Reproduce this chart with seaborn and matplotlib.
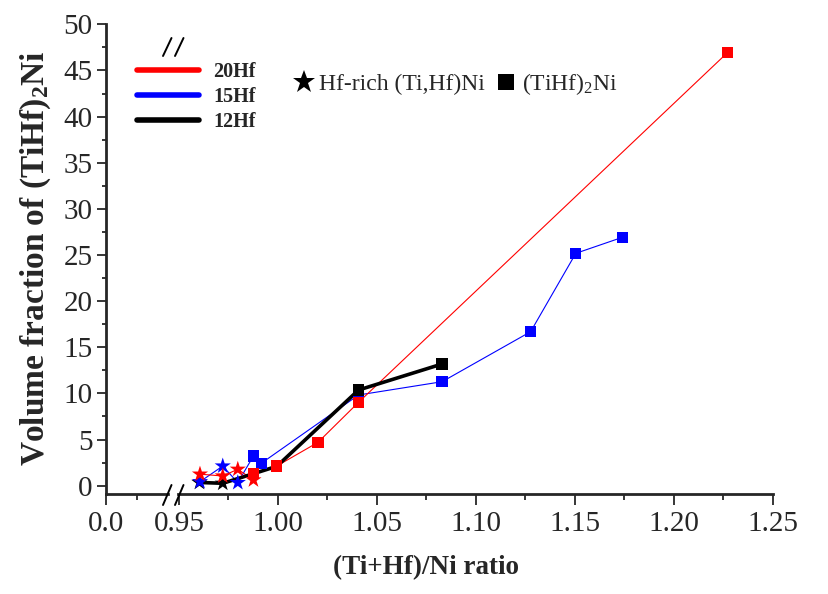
import matplotlib
matplotlib.use("Agg")
import matplotlib.pyplot as plt
from matplotlib.lines import Line2D
from matplotlib.ticker import MultipleLocator, FixedLocator
import pandas as pd
import seaborn as sns

sns.set_style('ticks')
plt.rcParams['font.family'] = ['Liberation Serif', 'DejaVu Serif']
plt.rcParams['mathtext.default'] = 'regular'
plt.rcParams['axes.linewidth'] = 2.0

# ---- data ----
ratio_20 = [0.9606, 0.9721, 0.9797, 0.9876, 0.9876, 0.9994, 1.0202, 1.0407, 1.2272]
vf_20 = [1.25, 1.05, 1.78, 0.62, 1.34, 2.13, 4.70, 9.04, 46.97]
phase_20 = ['star'] * 4 + ['square'] * 5

ratio_15 = [0.9606, 0.9721, 0.9797, 0.9876, 0.9915, 1.0407, 1.0829, 1.1276, 1.1504, 1.1740]
vf_15 = [0.43, 2.13, 0.33, 3.22, 2.42, 9.83, 11.27, 16.69, 25.18, 26.92]
phase_15 = ['star'] * 3 + ['square'] * 7

ratio_12 = [0.9603, 0.9721, 0.9876, 0.9994, 1.0407, 1.0829]
vf_12 = [0.35, 0.26, 1.30, 2.10, 10.37, 13.19]
phase_12 = ['star'] * 2 + ['square'] * 4

alloys = ['20Hf', '15Hf', '12Hf']
colors = {'20Hf': '#ff0000', '15Hf': '#0000ff', '12Hf': '#000000'}

xticks = [0.95, 1.00, 1.05, 1.10, 1.15, 1.20, 1.25]
yticks = [0, 5, 10, 15, 20, 25, 30, 35, 40, 45, 50]


def frame(r, v, p, a):
    return pd.DataFrame({'ratio': r, 'vf': v, 'phase': p, 'alloy': a})


d20 = frame(ratio_20, vf_20, phase_20, '20Hf')
d15 = frame(ratio_15, vf_15, phase_15, '15Hf')
d12 = frame(ratio_12, vf_12, phase_12, '12Hf')
lines_df = pd.concat([d15, d20, d12], ignore_index=True)
# drawing order of the markers: black stars, blue, black squares, red
pts_df = pd.concat([d12[d12.phase == 'star'], d15, d12[d12.phase == 'square'], d20],
                   ignore_index=True)

W, H = 829, 594
fig = plt.figure(figsize=(W / 100, H / 100), dpi=100)
bottom = 100 / H
height = 469.7 / H
ax0 = fig.add_axes([106 / W, bottom, 62 / W, height])
ax1 = fig.add_axes([178 / W, bottom, 595 / W, height], sharey=ax0)

sns.lineplot(data=lines_df, x='ratio', y='vf', hue='alloy', size='alloy',
             hue_order=['15Hf', '20Hf', '12Hf'], palette=colors,
             sizes={'20Hf': 0.8, '15Hf': 0.8, '12Hf': 2.6},
             estimator=None, sort=False, legend=False, ax=ax1, zorder=2)
sns.scatterplot(data=pts_df, x='ratio', y='vf', hue='alloy', style='phase',
                size='phase', palette=colors,
                markers={'star': '*', 'square': 's'},
                sizes={'star': 150, 'square': 66},
                linewidth=0, legend=False, ax=ax1, zorder=3)

ax1.set_xlim(0.9495, 1.25)
ax0.set_xlim(0, 0.05)
ax0.set_ylim(-0.9, 50)

tick_size = 21
for ax in (ax0, ax1):
    ax.set_xlabel('')
    ax.set_ylabel('')
    ax.spines['right'].set_visible(False)
    ax.spines['top'].set_visible(False)
    ax.tick_params(axis='both', which='major', labelsize=tick_size, width=1.3)
    ax.tick_params(axis='x', which='major', length=8, pad=4)
    ax.tick_params(axis='x', which='minor', length=4.5, width=1.3)
    ax.tick_params(axis='y', which='major', length=6.5, pad=3)
    ax.tick_params(axis='y', which='minor', length=3, width=1.3)

ax1.spines['left'].set_visible(False)
ax1.tick_params(axis='y', which='both', left=False, labelleft=False)
ax1.xaxis.set_major_locator(FixedLocator(xticks))
ax1.xaxis.set_minor_locator(MultipleLocator(0.025))
ax1.set_xticklabels(['%.2f' % t for t in xticks], family='Liberation Serif', size=tick_size)

ax0.xaxis.set_major_locator(FixedLocator([0.0]))
ax0.xaxis.set_minor_locator(FixedLocator([0.025]))
ax0.set_xticklabels(['0.0'], family='Liberation Serif', size=tick_size)
ax0.yaxis.set_major_locator(FixedLocator(yticks))
ax0.yaxis.set_minor_locator(MultipleLocator(2.5))
ax0.set_yticklabels([str(t) for t in yticks], family='Liberation Serif', size=tick_size)

# break marks
for x0 in (163, 175):
    fig.add_artist(Line2D([x0 / W, (x0 + 8.5) / W], [(H - 505) / H, (H - 485) / H],
                          color='black', lw=1.4))
    fig.add_artist(Line2D([x0 / W, (x0 + 8.5) / W], [(H - 56) / H, (H - 38) / H],
                          color='black', lw=1.4))

fig.text(426 / W, 1 - 568 / H, '(Ti+Hf)/Ni ratio', ha='center', va='center',
         family='Liberation Serif', weight='bold', size=19.5)
fig.text(36 / W, 1 - 258 / H, 'Volume fraction of (TiHf)$_2$Ni', ha='center', va='center',
         rotation=90, family='Liberation Serif', weight='bold', size=24)

# legends
h1 = [Line2D([], [], color=colors[a], lw=4) for a in alloys]
fig.legend(h1, alloys, loc='upper left', bbox_to_anchor=(137 / W, 1 - 62 / H),
           frameon=False, borderpad=0, borderaxespad=0, handlelength=3.1,
           handletextpad=0.7, labelspacing=0.25,
           prop={'family': 'Liberation Serif', 'weight': 'bold', 'size': 14.5})

h2 = [Line2D([], [], ls='none', marker='*', ms=17, color='black', mew=0),
      Line2D([], [], ls='none', marker='s', ms=11, color='black', mew=0)]
fig.legend(h2, ['Hf-rich (Ti,Hf)Ni', '(TiHf)$_2$Ni'], loc='upper left',
           bbox_to_anchor=(292 / W, 1 - 71 / H), ncol=2, frameon=False,
           borderpad=0, borderaxespad=0, handlelength=1.0, handletextpad=0.15,
           columnspacing=0.4,
           prop={'family': 'Liberation Serif', 'size': 17})

plt.savefig('out.png', dpi=100)
